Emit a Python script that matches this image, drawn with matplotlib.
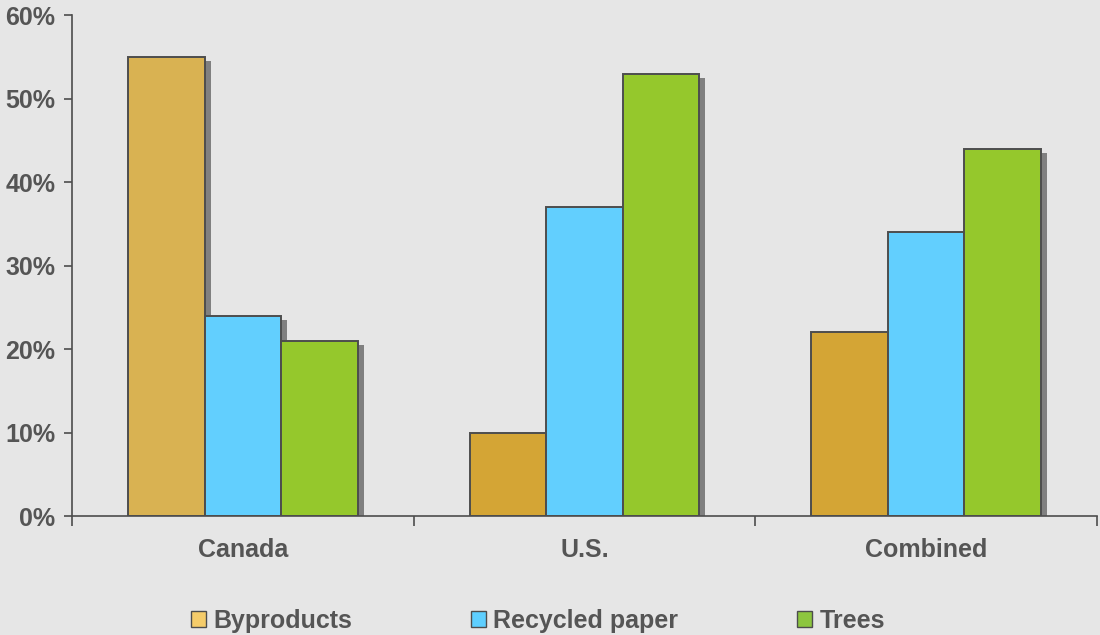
import matplotlib.pyplot as plt
import matplotlib.transforms as mtransforms
from matplotlib.patches import Patch
import numpy as np

regions = ["Canada", "U.S.", "Combined"]
series = ["Byproducts", "Recycled paper", "Trees"]
byproducts = [55, 10, 22]
recycled = [24, 37, 34]
trees = [21, 53, 44]

bar_colors = [
    ["#D9B252", "#D4A535", "#D4A535"],
    ["#62CFFE", "#62CFFE", "#62CFFE"],
    ["#95C82C", "#95C82C", "#95C82C"],
]
legend_colors = ["#F5CC6A", "#5ECFFF", "#8DC63F"]
text_color = "#555555"
edge = "#4D4D4D"
bg = "#E6E6E6"

plt.rcParams["font.family"] = ["Liberation Sans", "DejaVu Sans"]
plt.rcParams["font.weight"] = "bold"

fig = plt.figure(figsize=(11, 6.35), dpi=100, facecolor=bg)
ax = fig.add_axes([0.0655, 0.1874, 0.9315, 0.7886])
ax.set_facecolor(bg)

x = np.arange(len(regions))
width = 0.224
values = [byproducts, recycled, trees]

# drop shadow drawn behind the bars, shifted right and down
shadow = ax.transData + mtransforms.ScaledTranslation(6 / 100, -4 / 100, fig.dpi_scale_trans)
for i, vals in enumerate(values):
    pos = x + (i - 1) * width
    ax.bar(pos, vals, width, color="#808080", edgecolor="none",
           transform=shadow, zorder=1)

for i, vals in enumerate(values):
    pos = x + (i - 1) * width
    ax.bar(pos, vals, width, color=bar_colors[i], edgecolor=edge,
           linewidth=1.4, zorder=2)

ax.set_xlim(-0.5, 2.5)
ax.set_ylim(0, 60)
ax.set_yticks(range(0, 61, 10))
ax.set_yticklabels([f"{v}%" for v in range(0, 61, 10)])
ax.set_xticks([-0.5, 0.5, 1.5, 2.5])
ax.set_xticklabels([])
ax.set_xticks(x, minor=True)
ax.set_xticklabels(regions, minor=True)
ax.tick_params(axis="x", which="minor", length=0, pad=16,
               labelsize=18, labelcolor=text_color)
ax.tick_params(axis="x", which="major", length=7, width=1.2, color=edge, direction="out")
ax.tick_params(axis="y", length=6, width=1.2, color=edge, direction="out", pad=6,
               labelsize=18, labelcolor=text_color)

for side in ["top", "right"]:
    ax.spines[side].set_visible(False)
for side in ["left", "bottom"]:
    ax.spines[side].set_color(edge)
    ax.spines[side].set_linewidth(1.2)
    ax.spines[side].set_zorder(3)

handles = [Patch(facecolor=c, edgecolor=edge, linewidth=1.0) for c in legend_colors]
leg = fig.legend(handles, series, loc="center", bbox_to_anchor=(0.489, 0.022),
                 ncol=3, frameon=False, fontsize=18, handlelength=0.6,
                 handleheight=0.6, handletextpad=0.3, columnspacing=4.75,
                 borderpad=0)
for t in leg.get_texts():
    t.set_color(text_color)

fig.savefig("out.png", dpi=100, facecolor=bg)
